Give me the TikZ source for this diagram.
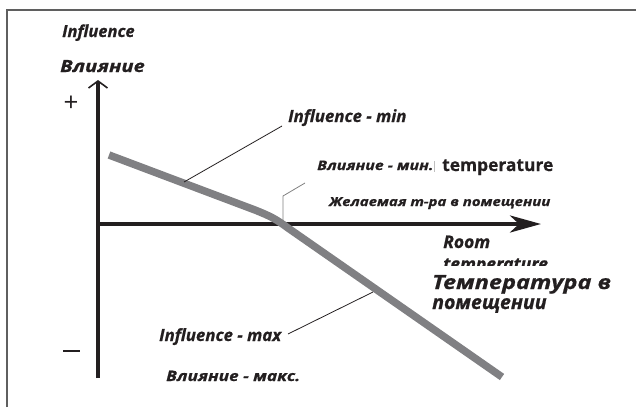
\documentclass[tikz,border=0pt]{standalone}
\usepackage{fontspec}
\setmainfont{Open Sans}[BoldFeatures={FakeBold=0.8},BoldItalicFeatures={FakeBold=0.8}]
\newfontfamily\cyrfont{Open Sans}[FakeStretch=1.2,BoldItalicFeatures={FakeBold=0.8}]
\usetikzlibrary{arrows.meta}
\definecolor{ink}{RGB}{35,31,32}
\definecolor{curvegray}{RGB}{128,128,131}
\definecolor{framegray}{RGB}{95,95,95}
\newcommand{\bisize}[1]{\fontsize{#1}{#1}\bfseries\itshape\selectfont}
\newcommand{\cyrsize}[1]{\cyrfont\fontsize{#1}{#1}\bfseries\itshape\selectfont}
\begin{document}
\begin{tikzpicture}[x=1pt,y=-1pt,
  lbl/.style={inner sep=0pt, anchor=base west, text=ink},
  axis/.style={line width=4.2pt, draw=ink},
  pointer/.style={line width=0.8pt, draw=ink},
  graypointer/.style={line width=0.8pt, draw=gray}]
\useasboundingbox (0,0) rectangle (636,407);

% outer frame (top and left edges)
\draw[framegray, line width=1.6pt] (7,407) -- (7,10) -- (636,10);

% axes
\coordinate (origin) at (98,224);
\coordinate (ytop) at (98,80);
\coordinate (ybot) at (98,378);
\coordinate (xend) at (541,224);
\draw[axis, -{Straight Barb[length=7pt,width=19pt,line width=1.6pt]}] (ybot) -- (ytop);
\draw[axis, -{Stealth[length=31pt,width=17pt,inset=9pt]}] (origin) -- (xend);

% characteristic curve
\coordinate (c0) at (109,155);
\coordinate (c1) at (255,210);
\coordinate (c2) at (288,228);
\coordinate (c3) at (502,377);
\draw[curvegray, line width=7.5pt]
  (c0) -- (c1) .. controls (270,216) and (276,219) .. (c2) -- (c3);

% sign marks
\node[font=\fontsize{26}{26}\selectfont, text=ink, inner sep=0pt] (plus) at (71,104) {+};
\draw[ink, line width=2pt] (63,351) -- (80,351);

% axis titles
\node[lbl, font=\bisize{16.5}] (infl) at (62,37) {Influence};
\node[lbl, font=\cyrsize{16.8}] (vl) at (60,72) {Влияние};

% minimum influence
\node[lbl, font=\bisize{16.8}] (imin) at (288,122) {Influence - min};
\coordinate (pmin) at (184,182);
\draw[pointer] (282,126) -- (pmin);
\node[lbl, font=\cyrsize{13.2}] (vmin) at (317,170) {Влияние - мин.};

% desired room temperature
\node[lbl, font=\fontsize{17.4}{17.4}\bfseries\selectfont] (tdes) at (442,171) {temperature};
\draw[gray!50, line width=0.8pt] (434,161) -- (434,172);
\node[lbl, font=\cyrsize{12.5}] (zhel) at (329,206) {Желаемая т-ра в помещении};
\coordinate (pdes) at (283,222);
\draw[graypointer] (305,183) -- (283,196) -- (pdes);

% room temperature axis label, second line partly hidden
\node[lbl, font=\bisize{17.5}] (room) at (443,248) {Room};
\begin{scope}
  \clip (430,250) rectangle (560,265);
  \node[lbl, font=\bisize{17.5}] (roomt) at (443,270) {\smash{temperature}};
\end{scope}
\node[lbl, font=\cyrsize{19.6}] (temp1) at (432,289) {Температура в};
\node[lbl, font=\bisize{19.6}] (temp2) at (432,309) {помещении};

% maximum influence
\node[lbl, font=\bisize{16.8}] (imax) at (159,341) {Influence - max};
\coordinate (pmax) at (373,292);
\draw[pointer] (288,334) -- (pmax);
\node[lbl, font=\cyrsize{14.4}] (vmax) at (166,381) {Влияние - макс.};
\end{tikzpicture}
\end{document}
